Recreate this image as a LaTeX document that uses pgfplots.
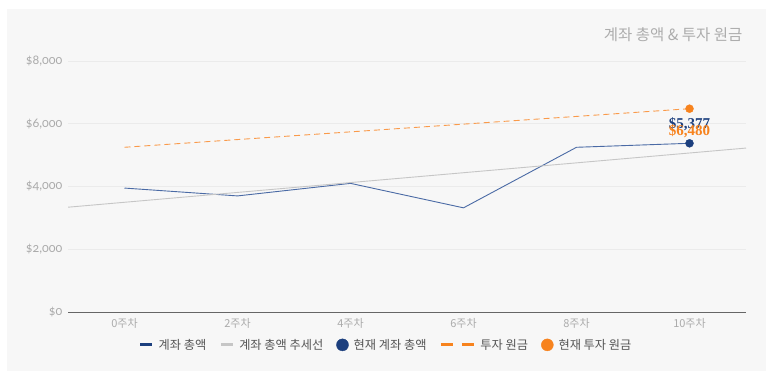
\documentclass[border=0pt]{standalone}
\usepackage{pgfplots}
\pgfplotsset{compat=1.18}
\usepackage{fontspec}
\setmainfont{Lato}[Numbers=OldStyle]
\newfontfamily\kr{Noto Sans CJK KR}
\newfontfamily\labserif{Liberation Serif}
\definecolor{bgc}{HTML}{F7F7F7}
\definecolor{gridc}{HTML}{EBEBEB}
\definecolor{tickc}{HTML}{ABABAB}
\definecolor{bluel}{HTML}{4A6AA5}
\definecolor{navy}{HTML}{1C3F7E}
\definecolor{orng}{HTML}{F7831E}
\definecolor{orngl}{HTML}{FA9A4A}
\definecolor{trend}{HTML}{C6C6C6}
\definecolor{axisc}{HTML}{666666}
\definecolor{legt}{HTML}{555555}
\definecolor{titc}{HTML}{ADADAD}
\begin{document}
\begin{tikzpicture}
\useasboundingbox (0,0) rectangle (773pt,377pt);
\fill[white] (0,0) rectangle (773pt,377pt);
\fill[bgc] (7pt,6pt) rectangle (766pt,368pt);
\begin{axis}[
  at={(68pt,65pt)}, anchor=south west,
  scale only axis, width=678pt, height=251pt,
  xmin=-1, xmax=11, ymin=0, ymax=8000,
  axis x line*=bottom, axis y line*=left,
  y axis line style={draw=none},
  x axis line style={axisc, line width=0.9pt, -},
  major tick length=0pt,
  ymajorgrids, grid style={gridc, line width=0.6pt},
  xtick={0,2,4,6,8,10},
  xticklabels={0주차,2주차,4주차,6주차,8주차,10주차},
  xticklabel style={font=\kr\fontsize{11}{12}\selectfont, text=tickc, yshift=-3pt},
  ytick={0,2000,4000,6000,8000},
  yticklabels={{\$0},{\$2,000},{\$4,000},{\$6,000},{\$8,000}},
  yticklabel style={font=\fontsize{12.5}{14}\selectfont, text=tickc, xshift=-2pt},
  legend style={at={(0.469,-0.131)}, anchor=center, legend columns=-1, draw=none, fill=none,
    font=\kr\fontsize{12.2}{14}\selectfont, text=legt,
    /tikz/every even column/.append style={column sep=11pt},
    /tikz/every odd column/.append style={column sep=3pt}},
]
\addplot[bluel, line width=0.9pt,
  legend image code/.code={\draw[navy, line width=3pt] (0pt,0pt) -- (12pt,0pt);}]
  coordinates {(0,3950) (2,3700) (4,4100) (6,3320) (8,5250) (10,5377)};
\addlegendentry{계좌 총액}
\addplot[trend, line width=0.9pt,
  legend image code/.code={\draw[line width=3pt] (0pt,0pt) -- (12pt,0pt);}]
  coordinates {(-1,3340) (11,5225)};
\addlegendentry{계좌 총액 추세선}
\addplot[only marks, mark=*, mark size=4pt, navy, mark options={draw=navy, fill=navy},
  legend image code/.code={\fill[navy] (6pt,0pt) circle (6pt);}]
  coordinates {(10,5377)};
\addlegendentry{현재 계좌 총액}
\addplot[orngl, line width=0.9pt, dash pattern=on 6pt off 4pt,
  legend image code/.code={\draw[orng, line width=3pt, dash pattern=on 12pt off 9pt] (0pt,0pt) -- (33pt,0pt);}]
  coordinates {(0,5250) (2,5496) (4,5742) (6,5988) (8,6234) (10,6480)};
\addlegendentry{투자 원금}
\addplot[only marks, mark=*, mark size=4pt, orng, mark options={draw=orng, fill=orng},
  legend image code/.code={\fill[orng] (6pt,0pt) circle (6pt);}]
  coordinates {(10,6480)};
\addlegendentry{현재 투자 원금}
\node[navy, font=\labserif\bfseries\fontsize{15}{16}\selectfont, yshift=19pt] at (axis cs:10,5377) {\$5,377};
\node[orng, font=\labserif\bfseries\fontsize{15}{16}\selectfont, yshift=-23pt] at (axis cs:10,6480) {\$6,480};
\end{axis}
\node[anchor=east, font=\kr\fontsize{15.5}{17}\selectfont, text=titc] at (746pt,342pt) {계좌 총액 \& 투자 원금};
\end{tikzpicture}
\end{document}
